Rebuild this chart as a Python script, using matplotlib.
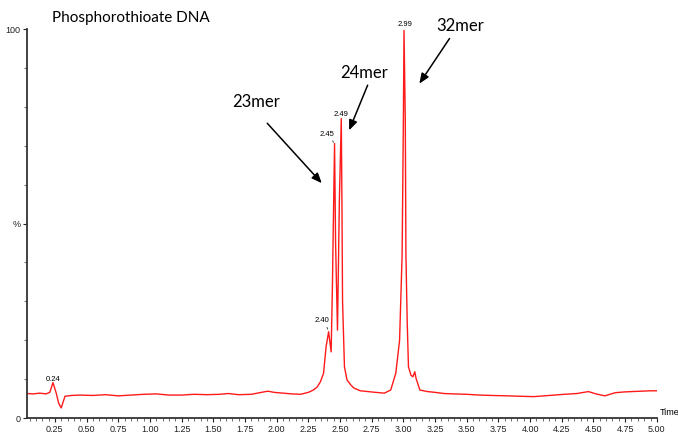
import matplotlib
matplotlib.use("Agg")
import matplotlib.pyplot as plt
from matplotlib.ticker import MultipleLocator, FixedLocator

# ---- data (time in min, intensity in %) ----
time = [0.03, 0.08, 0.13, 0.18, 0.21, 0.235, 0.26, 0.28, 0.30, 0.33, 0.38,
        0.45, 0.55, 0.65, 0.75, 0.85, 0.95, 1.05, 1.15, 1.25, 1.35, 1.45,
        1.55, 1.62, 1.70, 1.80, 1.88, 1.93, 1.98, 2.05, 2.12, 2.19, 2.25,
        2.29, 2.32, 2.345, 2.37, 2.39, 2.41, 2.43, 2.44, 2.45, 2.457, 2.465,
        2.48, 2.495, 2.51, 2.515, 2.52, 2.535, 2.555, 2.585, 2.61, 2.66,
        2.72, 2.78, 2.85, 2.90, 2.94, 2.97, 2.99, 3.00, 3.005, 3.015, 3.02,
        3.03, 3.04, 3.06, 3.075, 3.09, 3.10, 3.13, 3.19, 3.25, 3.32, 3.40,
        3.50, 3.60, 3.70, 3.82, 3.92, 4.03, 4.15, 4.27, 4.37, 4.46, 4.52,
        4.59, 4.67, 4.74, 4.80, 4.88, 4.95, 5.00]
intensity = [6.3, 6.2, 6.4, 6.2, 6.6, 9.1, 6.5, 3.8, 2.6, 5.6, 5.8,
             5.9, 5.8, 6.0, 5.7, 5.9, 6.1, 6.2, 5.9, 5.9, 6.1, 6.0,
             6.1, 6.3, 6.0, 6.1, 6.6, 6.9, 6.6, 6.4, 6.2, 6.1, 6.6,
             7.2, 8.0, 9.3, 11.5, 18.3, 22.2, 17.0, 33.8, 56.0, 70.6, 45.0,
             22.6, 56.0, 77.0, 56.0, 30.0, 13.2, 9.8, 8.5, 7.7, 7.0,
             6.8, 6.6, 6.4, 7.2, 11.5, 20.0, 42.0, 76.6, 99.7, 76.6, 42.0,
             25.0, 13.2, 11.0, 10.6, 11.9, 10.2, 7.2, 6.8, 6.6, 6.3, 6.2,
             6.1, 5.9, 5.8, 5.7, 5.6, 5.5, 5.8, 6.1, 6.3, 6.8, 6.2,
             5.7, 6.5, 6.7, 6.8, 6.9, 7.0, 7.0]

x_ticks = [0.25, 0.50, 0.75, 1.00, 1.25, 1.50, 1.75, 2.00, 2.25, 2.50,
           2.75, 3.00, 3.25, 3.50, 3.75, 4.00, 4.25, 4.50, 4.75, 5.00]
x_tick_labels = [f"{v:.2f}" for v in x_ticks]
y_ticks = [0, 50, 100]
y_tick_labels = ["0", "%", "100"]

peak_labels = ["0.24", "2.40", "2.45", "2.49", "2.99"]
peak_label_pos = [(0.234, 10.0), (2.361, 25.1), (2.401, 72.9), (2.510, 78.1), (3.013, 101.3)]
mers = ["23mer", "24mer", "32mer"]
mer_text_pos = [(1.837, 81.2), (2.688, 88.7), (3.448, 100.8)]
mer_tail = [(1.926, 75.8), (2.718, 85.6), (3.364, 97.6)]
mer_head = [(2.356, 60.4), (2.572, 74.0), (3.126, 86.0)]

fig = plt.figure(figsize=(6.78, 4.33), dpi=100)
ax = fig.add_axes([0.0398, 0.0346, 0.929, 0.898])
ax.plot(time, intensity, color="#ff1a1a", lw=1.0)

ax.set_xlim(0.03, 5.0)
ax.set_ylim(0, 100)
for s in ("top", "right"):
    ax.spines[s].set_visible(False)
for s in ("left", "bottom"):
    ax.spines[s].set_color("#333333")
    ax.spines[s].set_linewidth(1.3)

ax.xaxis.set_major_locator(FixedLocator(x_ticks))
ax.set_xticklabels(x_tick_labels, fontsize=6.5, family="Liberation Sans")
ax.xaxis.set_minor_locator(MultipleLocator(0.05))
ax.tick_params(axis="x", which="major", length=3, width=0.8, pad=2, colors="#222222")
ax.tick_params(axis="x", which="minor", length=2, width=0.6, colors="#555555")
ax.yaxis.set_major_locator(FixedLocator(y_ticks))
ax.set_yticklabels(y_tick_labels, fontsize=6.5, family="Liberation Sans")
ax.yaxis.set_minor_locator(MultipleLocator(10))
ax.tick_params(axis="y", which="major", length=3, width=0.8, pad=1.5, colors="#222222")
ax.tick_params(axis="y", which="minor", length=2, width=0.6, colors="#555555")

ax.text(5.02, 0.3, "Time", fontsize=6.5, family="Liberation Sans", ha="left",
        va="bottom", clip_on=False)

fig.text(0.077, 0.958, "Phosphorothioate DNA", fontsize=11, family="Lato",
         ha="left", va="center")

for lab, (px, py) in zip(peak_labels, peak_label_pos):
    ax.text(px, py, lab, fontsize=5.5, family="Liberation Sans", ha="center",
            va="center", clip_on=False)
# leader lines for the small peak labels
ax.annotate("", xy=(2.41, 22.2), xytext=(2.39, 24.0),
            arrowprops=dict(arrowstyle="-", lw=0.6, color="#333333"))
ax.annotate("", xy=(2.455, 70.2), xytext=(2.435, 72.0),
            arrowprops=dict(arrowstyle="-", lw=0.6, color="#333333"))

for lab, tp, tail, head in zip(mers, mer_text_pos, mer_tail, mer_head):
    ax.text(tp[0], tp[1], lab, fontsize=12, family="Lato", ha="center",
            va="center", clip_on=False)
    ax.annotate("", xy=head, xytext=tail,
                arrowprops=dict(arrowstyle="-|>,head_length=0.6,head_width=0.25",
                                lw=1.1, color="black", shrinkA=0, shrinkB=0),
                annotation_clip=False)

fig.savefig("out.png", dpi=100)
